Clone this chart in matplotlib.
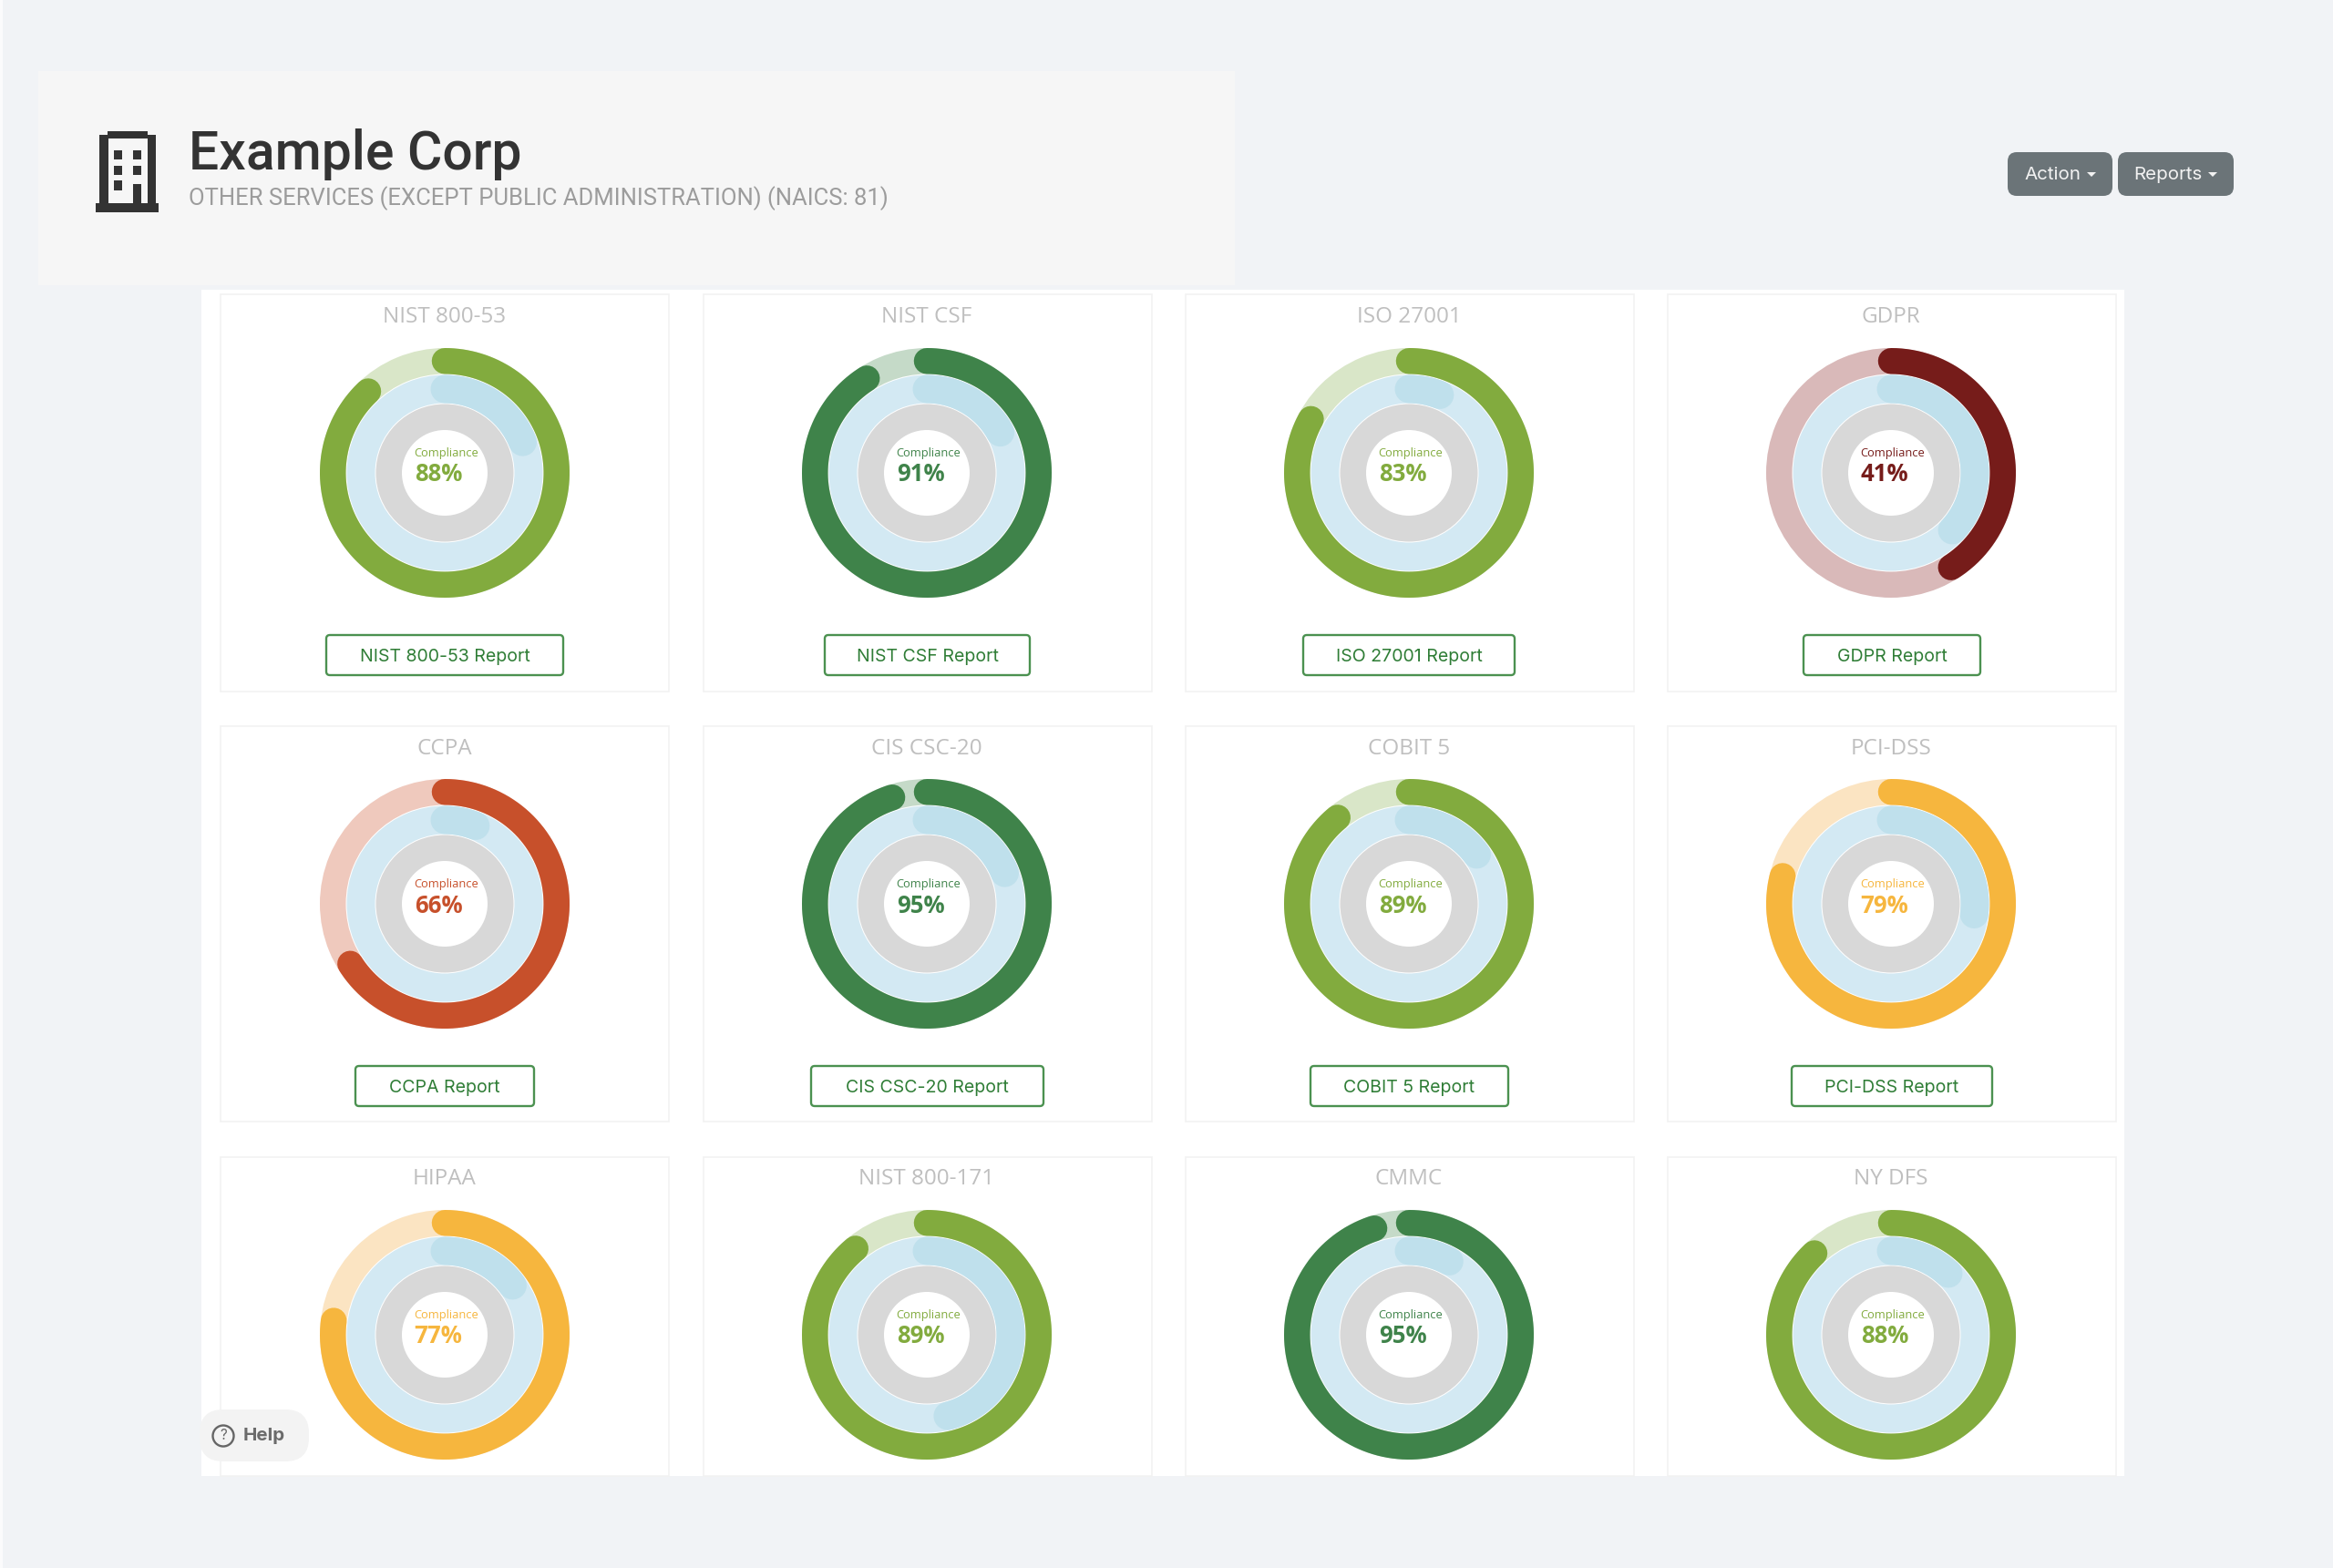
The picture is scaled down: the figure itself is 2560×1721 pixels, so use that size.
import numpy as np
import matplotlib
matplotlib.use("Agg")
import matplotlib.pyplot as plt
from matplotlib.patches import Rectangle, FancyBboxPatch, Polygon, Circle

W, H = 2560, 1721

# chart values, row by row
frameworks = ["NIST 800-53", "NIST CSF", "ISO 27001", "GDPR",
              "CCPA", "CIS CSC-20", "COBIT 5", "PCI-DSS",
              "HIPAA", "NIST 800-171", "CMMC", "NY DFS"]
compliance = [88, 91, 83, 41, 66, 95, 89, 79, 77, 89, 95, 88]
inner_arc = [19, 17, 6, 37, 6, 19, 15, 27, 15, 46, 8, 12]
levels = ["mid", "high", "mid", "bad", "low", "high", "mid", "warn", "warn", "mid", "high", "mid"]
button_labels = ["NIST 800-53 Report", "NIST CSF Report", "ISO 27001 Report", "GDPR Report",
                 "CCPA Report", "CIS CSC-20 Report", "COBIT 5 Report", "PCI-DSS Report"]

ring_color = {"mid": "#82ab3e", "high": "#3f834a", "bad": "#761c1a", "low": "#c7502b", "warn": "#f6b63e"}
track_color = {"mid": "#d9e6c8", "high": "#c5dac8", "bad": "#d9b9b9", "low": "#efc9bd", "warn": "#fbe4c2"}

col_x = [488, 1017, 1546, 2075]
row_y = [519, 992, 1465]
card_x = [242, 772, 1301, 1830]
card_w = 492
card_y = [323, 797, 1270]
card_h = [436, 434, 350]
button_x = [(358, 618), (905, 1130), (1430, 1662), (1979, 2173),
            (390, 586), (890, 1145), (1438, 1655), (1966, 2186)]
button_y = [719, 1192]
SANS = "Open Sans"
UI = "Inter"
DARK = "#333333"
HALF = 150


def pixel_layer(zorder):
    ax = fig.add_axes([0, 0, 1, 1], zorder=zorder)
    ax.set_xlim(0, W)
    ax.set_ylim(H, 0)
    ax.axis("off")
    return ax


def rounded(ax, x0, y0, x1, y1, rad, **kw):
    ax.add_patch(FancyBboxPatch((x0 + rad, y0 + rad), x1 - x0 - 2 * rad, y1 - y0 - 2 * rad,
                                boxstyle=f"round,pad={rad},rounding_size={rad}", **kw))


fig = plt.figure(figsize=(W / 100, H / 100), dpi=100, facecolor="#f1f3f6")
back = pixel_layer(0)
front = pixel_layer(2)

back.add_patch(Rectangle((0, 0), 3, H, color="#fbfbfc", lw=0))
back.add_patch(Rectangle((42, 78), 1313, 235, color="#f6f6f6", lw=0))
back.add_patch(Rectangle((221, 318), 2110, 1302, color="#ffffff", lw=0))

# building icon
back.add_patch(Rectangle((109, 148), 62, 76, color=DARK, lw=0))
back.add_patch(Rectangle((118, 144), 44, 6, color=DARK, lw=0))
back.add_patch(Rectangle((105, 223), 69, 10, color=DARK, lw=0))
back.add_patch(Rectangle((119, 152), 43, 71, color="#f6f6f6", lw=0))
for wx in (125, 146):
    for wy in (165, 182):
        back.add_patch(Rectangle((wx, wy), 9, 10, color=DARK, lw=0))
back.add_patch(Rectangle((125, 198), 9, 11, color=DARK, lw=0))
back.add_patch(Rectangle((146, 202), 9, 22, color=DARK, lw=0))

front.text(207, 185.5, "Example Corp", family="Roboto", fontsize=42.3, weight="medium", color=DARK, va="baseline")
front.text(207, 225, "OTHER SERVICES (EXCEPT PUBLIC ADMINISTRATION) (NAICS: 81)", family="Roboto",
           fontsize=18.45, color="#9c9c9c", va="baseline")

# top right buttons
for x0, x1, label, tx, cx in [(2203, 2318, "Action", 2252, 2295), (2324, 2451, "Reports", 2379, 2428)]:
    rounded(back, x0, 167, x1, 215, 10, fc="#6b7478", ec="none")
    front.text(tx, 192, label, family=UI, fontsize=14.8, color="#f2f2f2", ha="center", va="center")
    back.add_patch(Polygon([(cx - 5, 189), (cx + 5, 189), (cx, 194)], color="#f2f2f2", lw=0))

# cards
for cy, ch in zip(card_y, card_h):
    for cx in card_x:
        back.add_patch(Rectangle((cx, cy), card_w, ch, fc="#ffffff", ec="#f2f2f2", lw=1.2))

# report buttons
for i, ((x0, x1), label) in enumerate(zip(button_x, button_labels)):
    by = button_y[i // 4]
    rounded(back, x0, by - 22, x1, by + 22, 4, fc="#ffffff", ec="#4b9150", lw=1.7)
    front.text((x0 + x1) / 2, by + 2, label, family=UI, fontsize=14.1, color="#2f7d36", ha="center", va="center")

# help pill
rounded(front, 219, 1547, 339, 1604, 26, fc="#f3f3f3", ec="none")
front.add_patch(Circle((245, 1576), 11.5, fc="none", ec="#666666", lw=1.7))
front.text(245, 1576, "?", family=UI, fontsize=11, color="#666666", ha="center", va="center")
front.text(267, 1576, "Help", family=UI, fontsize=14.8, weight="bold", color="#6b6b6b", va="center")

# donuts
for i, (name, val, arc, lev) in enumerate(zip(frameworks, compliance, inner_arc, levels)):
    cx, cy = col_x[i % 4], row_y[i // 4]
    ax = fig.add_axes([(cx - HALF) / W, 1 - (cy + HALF) / H, 2 * HALF / W, 2 * HALF / H], polar=True, zorder=1)
    ax.set_theta_zero_location("N")
    ax.set_theta_direction(-1)
    ax.set_ylim(0, HALF)
    ax.axis("off")

    ax.bar(0, 28.5, width=2 * np.pi, bottom=108.5, color=track_color[lev], lw=0)
    ax.bar(0, 31, width=2 * np.pi, bottom=76.5, color="#d3e9f3", lw=0)
    ax.bar(0, 28.5, width=2 * np.pi, bottom=47, color="#d8d8d8", lw=0)

    t = np.linspace(0, 2 * np.pi * arc / 100, 200)
    ax.plot(t, np.full_like(t, 92), color="#bfe0ec", lw=31 * 0.72, solid_capstyle="round")
    t = np.linspace(0, 2 * np.pi * val / 100, 300)
    ax.plot(t, np.full_like(t, 122.75), color=ring_color[lev], lw=28.5 * 0.72, solid_capstyle="round")

    front.text(cx, cy - 170.5, name, family=SANS, fontsize=17.5, color="#bfbfbf", ha="center", va="center")
    front.text(cx + 2, cy - 21.5, "Compliance", family=SANS, fontsize=9.3, color=ring_color[lev],
               ha="center", va="center")
    front.text(cx - 7, cy + 2, f"{val}%", family=SANS, fontsize=18.5, weight="bold", color=ring_color[lev],
               ha="center", va="center")

fig.savefig("out.png", dpi=100, facecolor=fig.get_facecolor())
